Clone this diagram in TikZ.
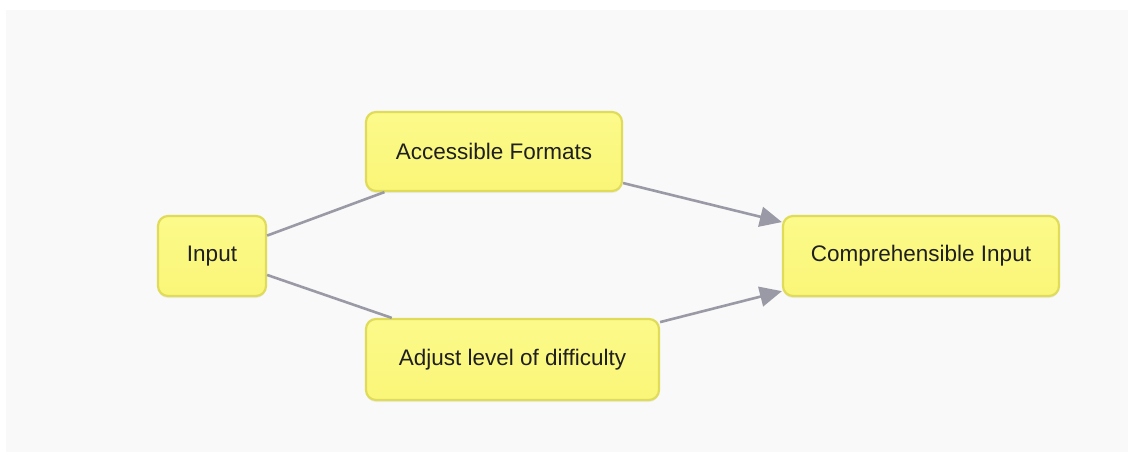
\documentclass[tikz,border=0pt]{standalone}
\usepackage{fontspec}
\setmainfont{Liberation Sans}
\usetikzlibrary{arrows.meta,shadows}
\definecolor{panel}{HTML}{F9F9F9}
\definecolor{boxfill}{HTML}{FAF678}
\definecolor{boxtop}{HTML}{FCFA8A}
\definecolor{boxedge}{HTML}{E0DC5A}
\definecolor{edgecol}{HTML}{9A9AA6}
\tikzset{
  box/.style={draw=boxedge, line width=2.2pt, rounded corners=10pt,
    top color=boxtop, bottom color=boxfill, inner sep=0pt,
    font=\fontsize{22.5}{26}\selectfont, text=black!88,
    drop shadow={shadow xshift=0pt, shadow yshift=-2pt, opacity=0.12}},
  link/.style={draw=edgecol, line width=2.6pt},
  arrowlink/.style={link, -{Triangle[length=22pt,width=20pt]}},
}
\begin{document}
\begin{tikzpicture}[x=1pt,y=1pt]
\useasboundingbox (0,0) rectangle (1131,-457);
\fill[white] (0,0) rectangle (1131,-457);
\fill[panel] (6,-10) rectangle (1128,-452);
\node[box, minimum width=108pt, minimum height=80pt] (in) at (212,-256) {Input};
\node[box, minimum width=256pt, minimum height=79pt] (af) at (494,-151.5) {Accessible Formats};
\node[box, minimum width=293pt, minimum height=81pt] (ad) at (512.5,-359.5) {Adjust level of difficulty};
\node[box, minimum width=276pt, minimum height=80pt] (ci) at (921,-256) {Comprehensible Input};
\draw[link] (in) -- (af);
\draw[link] (in) -- (ad);
\draw[arrowlink] (af) -- (ci);
\draw[arrowlink] (ad) -- (ci);
\end{tikzpicture}
\end{document}
